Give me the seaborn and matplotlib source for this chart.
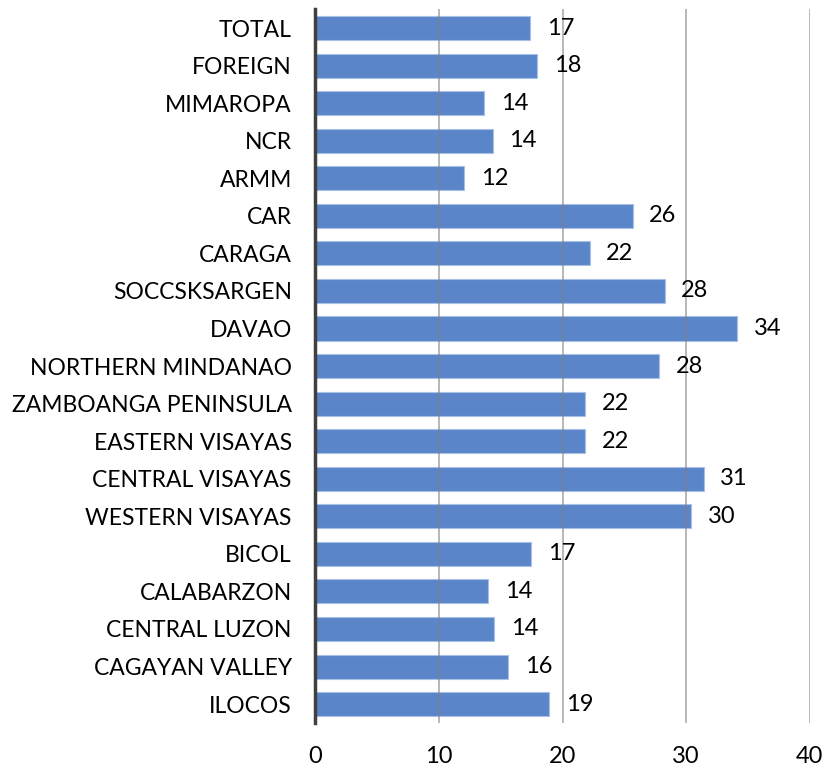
import matplotlib
matplotlib.use("Agg")
import matplotlib.pyplot as plt
import seaborn as sns
import pandas as pd

regions = [
    "TOTAL", "FOREIGN", "MIMAROPA", "NCR", "ARMM", "CAR", "CARAGA",
    "SOCCSKSARGEN", "DAVAO", "NORTHERN MINDANAO", "ZAMBOANGA PENINSULA",
    "EASTERN VISAYAS", "CENTRAL VISAYAS", "WESTERN VISAYAS", "BICOL",
    "CALABARZON", "CENTRAL LUZON", "CAGAYAN VALLEY", "ILOCOS",
]
values = [
    17.35, 17.95, 13.65, 14.33, 12.03, 25.67, 22.18,
    28.26, 34.14, 27.80, 21.83,
    21.83, 31.41, 30.39, 17.45,
    13.98, 14.45, 15.62, 18.89,
]
x_ticks = [0, 10, 20, 30, 40]

df = pd.DataFrame({"region": regions, "value": values})

sns.set_style("white")
plt.rcParams["font.family"] = ["Lato", "DejaVu Sans"]

fig = plt.figure(figsize=(8.28, 7.69), dpi=100)
ax = fig.add_axes([0.381, 0.06, 0.597, 0.928])

sns.barplot(
    data=df, x="value", y="region", order=regions, orient="h",
    color="#5B85C9", saturation=1, width=0.64,
    edgecolor="#A9C0E6", linewidth=0.8, ax=ax,
)

for cont in ax.containers:
    ax.bar_label(cont, fmt="%.0f", padding=12, fontsize=17, color="black")

ax.set_xlim(0, 40)
ax.set_xticks(x_ticks)
ax.set_xlabel("")
ax.set_ylabel("")
ax.tick_params(axis="both", length=0, labelsize=16.5, colors="black")
ax.tick_params(axis="x", pad=17, labelsize=17)
ax.tick_params(axis="y", pad=17)

ax.set_axisbelow(False)
ax.xaxis.grid(True, color="#7F7F7F", alpha=0.7, linewidth=1.1)
ax.yaxis.grid(False)

for s in ["top", "right", "bottom"]:
    ax.spines[s].set_visible(False)
ax.spines["left"].set_color("#404040")
ax.spines["left"].set_linewidth(2.5)
ax.spines["left"].set_zorder(5)

fig.savefig("out.png", dpi=100)
